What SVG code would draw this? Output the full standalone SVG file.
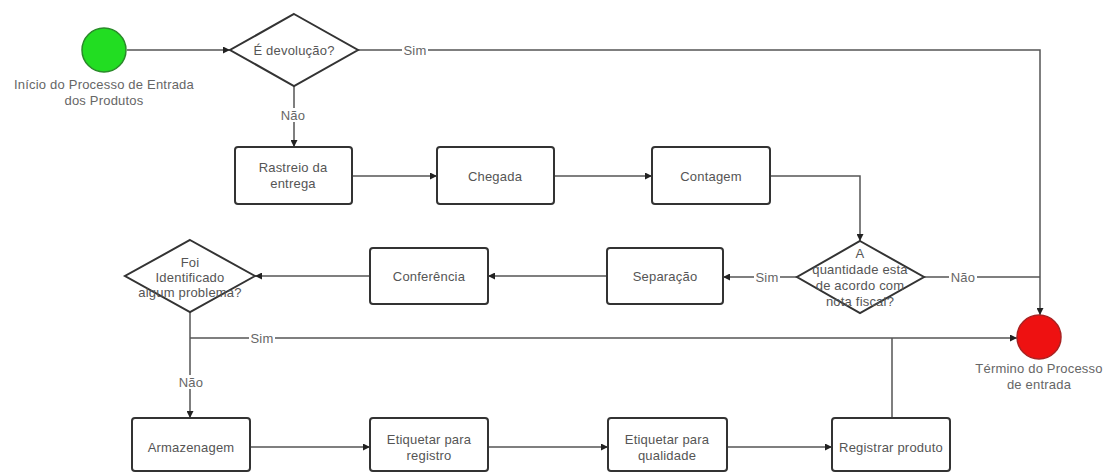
<svg xmlns="http://www.w3.org/2000/svg" width="1111" height="472" viewBox="0 0 1111 472">
<style>
.box{fill:#fff;stroke:#333;stroke-width:2}
.dia{fill:#fff;stroke:#333;stroke-width:2}
.t{font-family:"Liberation Sans",Arial,sans-serif;font-size:13px;letter-spacing:0.2px;fill:#555;text-anchor:middle;dominant-baseline:central}
.lbl{font-family:"Liberation Sans",Arial,sans-serif;font-size:13px;letter-spacing:0.2px;fill:#666;text-anchor:middle;dominant-baseline:central}
.c{fill:none;stroke:#555;stroke-width:1.5}
.bg{fill:#fff}
</style>
<defs>
<marker id="arr" viewBox="0 0 10 10" refX="10" refY="5" markerWidth="7" markerHeight="7" markerUnits="userSpaceOnUse" orient="auto">
<path d="M0,0 L10,5 L0,10 z" fill="#222"/>
</marker>
</defs>
<rect width="1111" height="472" fill="#fff"/>
<g id="connectors">
<path class="c" d="M127,50 H230" marker-end="url(#arr)"/>
<path class="c" d="M358,50 H1040 V315" marker-end="url(#arr)"/>
<path class="c" d="M294,86 V147" marker-end="url(#arr)"/>
<path class="c" d="M352,176 H437" marker-end="url(#arr)"/>
<path class="c" d="M554,176 H652" marker-end="url(#arr)"/>
<path class="c" d="M770,176 H860 V241" marker-end="url(#arr)"/>
<path class="c" d="M924,277 H1040"/>
<path class="c" d="M797,277 H723" marker-end="url(#arr)"/>
<path class="c" d="M607,276 H488" marker-end="url(#arr)"/>
<path class="c" d="M370,276 H255" marker-end="url(#arr)"/>
<path class="c" d="M190,312 V418" marker-end="url(#arr)"/>
<path class="c" d="M190,338 H1017" marker-end="url(#arr)"/>
<path class="c" d="M892,418 V338"/>
<path class="c" d="M250,447 H370" marker-end="url(#arr)"/>
<path class="c" d="M488,447 H608" marker-end="url(#arr)"/>
<path class="c" d="M727,447 H832" marker-end="url(#arr)"/>
<rect class="bg" x="402" y="43" width="26" height="14"/>
<text class="lbl" x="415" y="50">Sim</text>
<rect class="bg" x="279" y="108" width="28" height="14"/>
<text class="lbl" x="293" y="115">Não</text>
<rect class="bg" x="754" y="270" width="26" height="14"/>
<text class="lbl" x="767" y="277">Sim</text>
<rect class="bg" x="949" y="270" width="28" height="14"/>
<text class="lbl" x="963" y="277">Não</text>
<rect class="bg" x="249" y="331" width="26" height="14"/>
<text class="lbl" x="262" y="338">Sim</text>
<rect class="bg" x="177" y="375" width="28" height="14"/>
<text class="lbl" x="191" y="382">Não</text>
</g>
<g id="inicio">
<circle cx="104" cy="50" r="22" fill="#22dd22" stroke="#2a8a2a" stroke-width="1.5"/>
<text class="lbl" x="104" y="84">Início do Processo de Entrada</text>
<text class="lbl" x="104" y="100">dos Produtos</text>
</g>
<g id="devolucao">
<polygon class="dia" points="294,14 358,50 294,86 230,50"/>
<text class="t" x="294" y="50">É devolução?</text>
</g>
<g id="rastreio">
<rect class="box" x="235" y="147" width="117" height="57" rx="3"/>
<text class="t" x="293" y="167">Rastreio da</text>
<text class="t" x="293" y="183">entrega</text>
</g>
<g id="chegada">
<rect class="box" x="437" y="147" width="117" height="57" rx="3"/>
<text class="t" x="495" y="176">Chegada</text>
</g>
<g id="contagem">
<rect class="box" x="652" y="147" width="118" height="57" rx="3"/>
<text class="t" x="711" y="176">Contagem</text>
</g>
<g id="quantidade">
<polygon class="dia" points="860,241 924,277 860,313 797,277"/>
<text class="t" x="860" y="253">A</text>
<text class="t" x="860" y="269">quantidade esta</text>
<text class="t" x="860" y="285">de acordo com</text>
<text class="t" x="860" y="301">nota fiscal?</text>
</g>
<g id="termino">
<circle cx="1039" cy="337" r="22" fill="#ee1111" stroke="#aa2222" stroke-width="1.5"/>
<text class="lbl" x="1039" y="368">Término do Processo</text>
<text class="lbl" x="1039" y="384">de entrada</text>
</g>
<g id="separacao">
<rect class="box" x="607" y="248" width="116" height="56" rx="3"/>
<text class="t" x="665" y="276">Separação</text>
</g>
<g id="conferencia">
<rect class="box" x="370" y="248" width="118" height="56" rx="3"/>
<text class="t" x="429" y="276">Conferência</text>
</g>
<g id="problema">
<polygon class="dia" points="190,240 255,276 190,312 125,276"/>
<text class="t" x="190" y="262">Foi</text>
<text class="t" x="190" y="277">Identificado</text>
<text class="t" x="190" y="292">algum problema?</text>
</g>
<g id="armazenagem">
<rect class="box" x="132" y="418" width="118" height="53" rx="3"/>
<text class="t" x="191" y="447">Armazenagem</text>
</g>
<g id="etiquetar-registro">
<rect class="box" x="370" y="418" width="118" height="53" rx="3"/>
<text class="t" x="429" y="439">Etiquetar para</text>
<text class="t" x="429" y="455">registro</text>
</g>
<g id="etiquetar-qualidade">
<rect class="box" x="608" y="418" width="119" height="53" rx="3"/>
<text class="t" x="667" y="439">Etiquetar para</text>
<text class="t" x="667" y="455">qualidade</text>
</g>
<g id="registrar">
<rect class="box" x="832" y="418" width="118" height="53" rx="3"/>
<text class="t" x="891" y="447">Registrar produto</text>
</g>
</svg>
